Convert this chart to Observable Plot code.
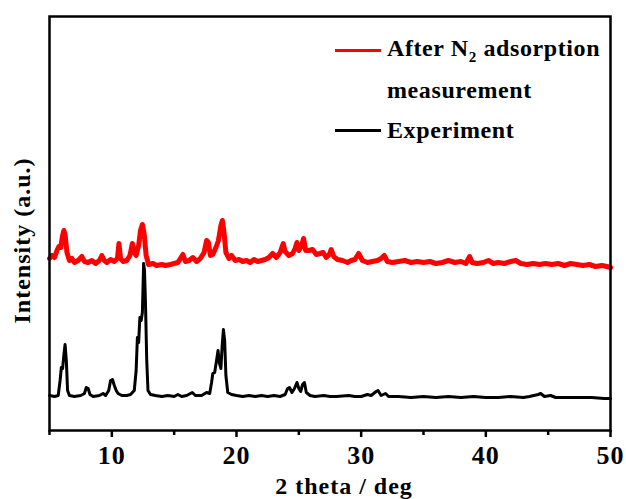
<!DOCTYPE html>
<html><head><meta charset="utf-8">
<script src="https://cdn.jsdelivr.net/npm/d3@7"></script>
<script src="https://cdn.jsdelivr.net/npm/@observablehq/plot@0.6"></script>
<style>
html,body{margin:0;padding:0;background:#fff;}
#wrap{position:relative;width:626px;height:499px;font-family:"Liberation Serif","Times New Roman",serif;font-weight:bold;}
#legend{position:absolute;left:335px;top:30px;font-size:24px;letter-spacing:0.6px;color:#000;}
.row{display:flex;align-items:center;height:40px;}
.sw{width:46px;height:3px;margin-right:6px;}
.ind{padding-left:52px;}
</style></head>
<body><div id="wrap"></div>
<script>
// Experiment (black) pattern: 2θ and intensity (a.u.)
const expTheta = [5.0,5.4,5.7,5.85,5.95,6.05,6.15,6.25,6.35,6.45,6.6,7.0,7.5,7.8,7.95,8.1,8.25,8.5,9.0,9.3,9.5,9.75,9.9,10.05,10.2,10.35,10.5,10.8,11.2,11.5,11.8,11.95,12.05,12.15,12.25,12.35,12.45,12.55,12.62,12.7,12.8,12.9,13.1,13.5,14.0,14.5,15.0,15.3,15.6,16.0,16.45,16.7,17.2,17.6,17.85,18.0,18.1,18.25,18.4,18.52,18.62,18.75,18.85,18.95,19.05,19.15,19.3,19.6,20.0,20.5,21.0,21.5,22.0,22.5,23.0,23.5,23.9,24.1,24.25,24.45,24.65,24.85,25.0,25.15,25.3,25.45,25.6,25.9,26.3,27.0,27.5,28.0,29.0,29.5,30.0,30.5,30.8,31.2,31.35,31.6,31.95,32.2,33.0,34.0,35.0,36.0,37.0,38.0,39.0,40.0,41.0,42.0,43.0,43.5,44.2,44.4,44.7,45.2,45.6,46.5,47.5,48.5,49.5,50.0];
const expInt = [35,34,35,50,63,62,75,86,70,40,35,34,35,37,43,42,36,34,35,37,35,40,50,51,45,40,37,35,35,36,40,60,93,88,113,110,118,167,160,127,70,40,36,35,34,35,34,36,34,35,38,35,35,38,37,48,57,58,70,80,68,62,85,101,90,55,38,36,35,34,35,34,35,34,35,34,36,42,43,38,42,48,42,39,46,48,38,35,34,35,34,34,35,34,34,36,35,39,40,35,37,34,34,33,34,33,34,33,34,33,33,34,33,34,36,37,34,35,33,33,33,33,32,32];
// After N2 adsorption measurement (red) pattern
const afterTheta = [5.0,5.2,5.4,5.6,5.75,5.9,6.05,6.15,6.25,6.4,6.6,6.8,7.0,7.3,7.6,7.8,8.1,8.4,8.7,9.0,9.2,9.4,9.6,9.9,10.2,10.45,10.57,10.7,10.9,11.2,11.45,11.65,11.8,11.95,12.15,12.3,12.45,12.6,12.75,12.95,13.3,13.6,14.0,14.3,14.7,15.0,15.3,15.55,15.7,15.9,16.2,16.5,16.8,17.1,17.4,17.6,17.75,17.9,18.1,18.35,18.55,18.75,18.87,19.0,19.15,19.4,19.6,19.9,20.2,20.5,20.8,21.1,21.4,21.7,22.0,22.3,22.6,22.9,23.2,23.5,23.75,23.9,24.2,24.5,24.7,24.85,25.0,25.2,25.38,25.55,25.8,26.1,26.4,26.7,26.95,27.2,27.45,27.6,27.8,28.1,28.5,28.9,29.2,29.5,29.8,30.1,30.5,30.9,31.3,31.6,31.85,32.1,32.5,33.0,33.5,34.0,34.5,35.0,35.5,36.0,36.5,37.0,37.5,38.0,38.4,38.7,38.9,39.3,39.8,40.2,40.6,41.0,41.5,42.0,42.4,42.8,43.3,43.8,44.3,44.8,45.3,45.8,46.3,46.8,47.3,47.8,48.3,48.8,49.3,49.7,50.0];
const afterInt = [172,175,173,180,184,183,195,200,196,178,170,172,168,170,174,169,168,170,167,170,175,170,168,171,169,172,187,172,169,170,175,187,178,175,185,200,206,196,175,166,167,165,166,165,166,167,168,173,176,169,170,173,169,172,178,190,188,175,176,183,190,205,210,198,178,172,175,170,171,169,170,168,171,169,170,171,173,177,173,178,187,179,175,177,182,188,180,184,192,180,180,181,176,177,178,173,176,181,174,171,170,168,170,171,177,170,168,169,170,172,175,169,168,169,170,168,169,168,169,167,168,170,168,169,167,174,168,167,168,170,167,168,167,169,170,167,166,167,166,167,166,167,165,167,166,165,166,164,165,164,163];
const xMajor = [10,20,30,40,50];
const xMinor = [5,15,25,35,45];
const xTitle = "2 theta / deg";
const yTitle = "Intensity (a.u.)";

const expData = expTheta.map((t,i)=>({t, v: expInt[i]}));
const afterData = afterTheta.map((t,i)=>({t, v: afterInt[i]}));

const chart = Plot.plot({
  width: 626, height: 499,
  marginLeft: 49, marginRight: 16, marginTop: 16, marginBottom: 69,
  style: {fontFamily: '"Liberation Serif","Times New Roman",serif', fontWeight: "bold", fontSize: "24px", letterSpacing: "1px", color: "#000", background: "#fff", overflow: "visible"},
  x: {domain: [5, 50]},
  y: {domain: [0, 414]},
  marks: [
    Plot.line(afterData, {x: "t", y: "v", stroke: "#ff0000", strokeWidth: 5, strokeLinejoin: "round"}),
    Plot.line(expData, {x: "t", y: "v", stroke: "#000", strokeWidth: 3, strokeLinejoin: "round"}),
    Plot.axisX({ticks: xMinor, tickSize: 5, tickFormat: () => "", strokeWidth: 2.5, label: null}),
    Plot.axisX({ticks: xMajor, tickSize: 7, tickPadding: 8, strokeWidth: 2.5, fontSize: 26, label: null}),
    Plot.axisY({ticks: [], label: null}),
    Plot.text([xTitle], {text: d => d, frameAnchor: "bottom", textAnchor: "middle", dx: 14, dy: 56, lineAnchor: "middle", fontSize: 24, fontWeight: "bold"}),
    Plot.text([yTitle], {text: d => d, frameAnchor: "left", textAnchor: "middle", rotate: -90, dx: -27, dy: 17, lineAnchor: "middle", fontSize: 24, fontWeight: "bold"}),
    Plot.frame({stroke: "#000", strokeWidth: 2.5})
  ]
});
const wrap = document.getElementById("wrap");
wrap.appendChild(chart);
const leg = document.createElement("div");
leg.id = "legend";
leg.innerHTML = '<div class="row"><div class="sw" style="background:#ff0000"></div><span>After N<sub style="font-size:15px;vertical-align:-6px;">2</sub> adsorption</span></div>' +
  '<div class="row ind">measurement</div>' +
  '<div class="row"><div class="sw" style="background:#000"></div><span>Experiment</span></div>';
wrap.appendChild(leg);
</script></body></html>
